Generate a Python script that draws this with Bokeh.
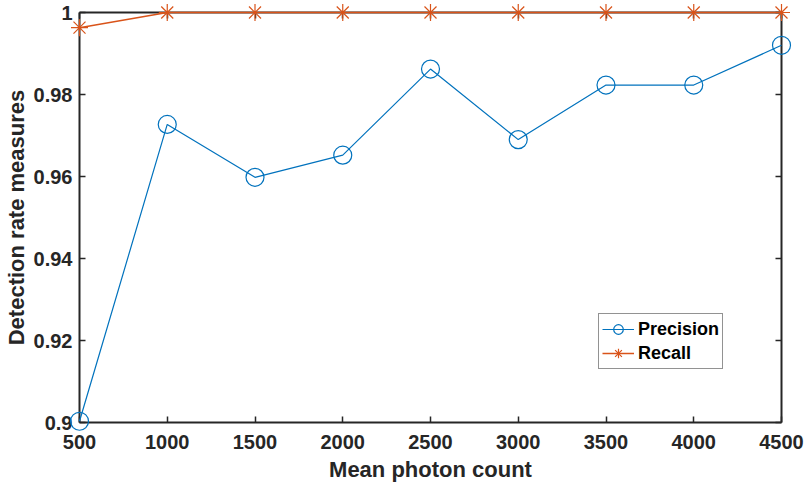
from bokeh.plotting import figure
from bokeh.models import Range1d, LinearAxis, FixedTicker, NumeralTickFormatter, Legend, LegendItem, CustomJSTickFormatter
from bokeh.embed import file_html
from bokeh.resources import INLINE

photon_counts = [500, 1000, 1500, 2000, 2500, 3000, 3500, 4000, 4500]
precision = [0.9003, 0.9727, 0.9598, 0.9652, 0.9862, 0.9690, 0.9823, 0.9823, 0.9920]
recall = [0.9963, 1.0, 1.0, 1.0, 1.0, 1.0, 1.0, 1.0, 1.0]
x_ticks = [500, 1000, 1500, 2000, 2500, 3000, 3500, 4000, 4500]
y_ticks = [0.90, 0.92, 0.94, 0.96, 0.98, 1.00]

BLUE = "#0072BD"
ORANGE = "#D95319"
AX = "#262626"
FONT = "Liberation Sans"

p = figure(width=805, height=484, output_backend="svg", toolbar_location=None,
           x_range=Range1d(500, 4500), y_range=Range1d(0.9, 1.0),
           min_border_left=79, min_border_right=24, min_border_top=12, min_border_bottom=61)
p.grid.visible = False
p.outline_line_color = None
p.background_fill_color = "white"
p.border_fill_color = "white"

def style(ax, labels=True):
    ax.axis_line_color = AX
    ax.axis_line_width = 2
    ax.major_tick_line_color = AX
    ax.major_tick_line_width = 1.5
    ax.major_tick_in = 6
    ax.major_tick_out = 0
    ax.minor_tick_line_color = None
    ax.major_label_text_font = FONT
    ax.major_label_text_font_style = "bold"
    ax.major_label_text_color = AX
    ax.axis_label_text_font = FONT
    ax.axis_label_text_font_style = "bold"
    ax.axis_label_text_color = AX
    if not labels:
        ax.formatter = CustomJSTickFormatter(code="return ''")
        ax.major_label_text_font_size = "1px"
        ax.major_label_standoff = 0

xa = p.xaxis[0]
ya = p.yaxis[0]
style(xa)
style(ya)
xa.ticker = FixedTicker(ticks=x_ticks)
ya.ticker = FixedTicker(ticks=y_ticks)
ya.formatter = NumeralTickFormatter(format="0.[00]")
xa.major_label_text_font_size = "20px"
ya.major_label_text_font_size = "20px"
xa.major_label_standoff = 12
ya.major_label_standoff = 7
xa.axis_label = "Mean photon count"
ya.axis_label = "Detection rate measures"
xa.axis_label_text_font_size = "22px"
ya.axis_label_text_font_size = "22px"
xa.axis_label_standoff = 5
ya.axis_label_standoff = 2

top = LinearAxis(ticker=FixedTicker(ticks=x_ticks))
right = LinearAxis(ticker=FixedTicker(ticks=y_ticks))
style(top, labels=False)
style(right, labels=False)
p.add_layout(top, "above")
p.add_layout(right, "right")

l1 = p.line(photon_counts, precision, line_color=BLUE, line_width=1.2, level="overlay")
c1 = p.scatter(photon_counts, precision, marker="circle", size=18, fill_color=None,
               line_color=BLUE, line_width=1.2, level="overlay")
l2 = p.line(photon_counts, recall, line_color=ORANGE, line_width=1.5, level="overlay")
c2 = p.scatter(photon_counts, recall, marker="asterisk", size=17, line_color=ORANGE,
               line_width=1.2, level="overlay")

legend = Legend(items=[LegendItem(label="Precision", renderers=[l1, c1]),
                       LegendItem(label="Recall", renderers=[l2, c2])],
                location=(519, 53))
legend.label_text_font = FONT
legend.label_text_font_style = "bold"
legend.label_text_font_size = "18px"
legend.label_text_color = "black"
legend.border_line_color = AX
legend.border_line_width = 1.5
legend.glyph_width = 32
legend.glyph_height = 24
legend.label_height = 24
legend.label_standoff = 4
legend.spacing = 0
legend.padding = 3
legend.margin = 0
legend.background_fill_color = "white"
legend.background_fill_alpha = 1
p.add_layout(legend, "center")

open("out.html", "w").write(file_html(p, INLINE))
